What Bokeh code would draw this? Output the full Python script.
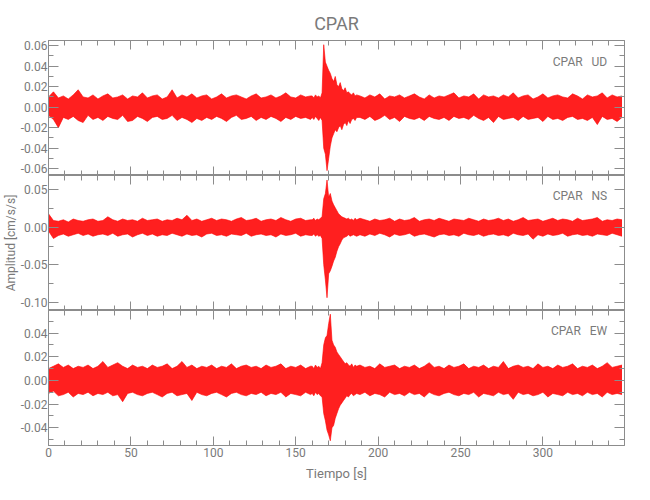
import numpy as np
from bokeh.plotting import figure
from bokeh.layouts import column
from bokeh.models import Range1d, FixedTicker, LinearAxis, PrintfTickFormatter, Label
from bokeh.embed import file_html
from bokeh.resources import INLINE

FONT = "Roboto"
TXT = "#7a7a7a"
AX = "#8c8c8c"
RED = "#ff0000"

# ---------------- data ----------------
# sample times of the envelope (s)
t_pre = list(range(0, 160, 3))
t_evt = list(range(160, 188))
t_post = list(range(189, 349, 3))

# envelopes (max / min of the trace per sample), units of 0.001 cm/s/s
ud_up_pre = [10, 15, 9, 11, 8, 12, 17, 10, 9,
             12, 8, 11, 13, 9, 10, 12, 8, 11,
             10, 14, 9, 11, 12, 8, 10, 17, 9,
             12, 10, 13, 9, 11, 12, 8, 10, 13,
             9, 11, 12, 10, 8, 11, 13, 9, 10,
             12, 9, 11, 14, 10, 9, 12, 10, 11]
ud_lo_pre = [-8, -12, -20, -10, -12, -9, -13, -15, -8,
             -12, -10, -13, -9, -11, -12, -8, -14, -13,
             -9, -11, -14, -10, -9, -12, -11, -8, -13,
             -10, -12, -15, -11, -13, -10, -12, -9, -11,
             -14, -10, -8, -12, -11, -9, -13, -10, -12,
             -9, -11, -14, -10, -12, -9, -11, -10, -12]
ud_up_evt = [11, 9, 12, 10, 11, 9, 14, 61, 44, 40, 36, 33, 28, 25,
             30, 22, 20, 24, 18, 16, 19, 14, 15, 13, 12, 14, 11, 12]
ud_lo_evt = [-10, -12, -9, -11, -13, -10, -13, -40, -46, -62, -50, -38, -30, -26,
             -22, -24, -20, -18, -22, -17, -15, -18, -13, -16, -12, -11, -13, -10]
ud_up_post = [11, 9, 12, 10, 13, 8, 11, 10, 12,
              9, 11, 13, 10, 8, 12, 9, 11, 10,
              12, 14, 9, 11, 10, 13, 8, 12, 10,
              11, 9, 12, 10, 14, 9, 11, 12, 8,
              10, 13, 9, 11, 12, 10, 9, 13, 11,
              8, 12, 10, 11, 14, 9, 12, 10, 11]
ud_lo_post = [-10, -12, -9, -13, -11, -8, -12, -10, -14,
              -9, -11, -12, -10, -13, -9, -11, -12, -10,
              -13, -9, -11, -10, -12, -8, -11, -13, -10,
              -15, -9, -12, -11, -10, -13, -9, -12, -11,
              -10, -14, -9, -12, -11, -13, -10, -9, -12,
              -11, -13, -10, -17, -9, -12, -11, -14, -10]

ns_up_pre = [18, 9, 8, 10, 7, 11, 9, 8, 10,
             11, 8, 9, 14, 10, 8, 11, 9, 10,
             8, 12, 9, 10, 11, 8, 10, 9, 12,
             10, 16, 9, 11, 8, 10, 12, 9, 11,
             10, 8, 11, 13, 9, 10, 12, 8, 10,
             11, 9, 13, 10, 8, 11, 12, 9, 10]
ns_lo_pre = [-5, -15, -11, -9, -12, -10, -8, -11, -9,
             -12, -10, -9, -11, -8, -12, -10, -9, -13,
             -10, -8, -11, -9, -12, -10, -11, -8, -10,
             -12, -9, -11, -10, -13, -9, -8, -11, -10,
             -12, -9, -10, -11, -8, -12, -10, -9, -11,
             -10, -13, -9, -11, -10, -8, -12, -10, -11]
ns_up_evt = [10, 12, 9, 11, 10, 12, 14, 38, 45, 63, 40, 45, 35, 30,
             26, 22, 18, 16, 14, 13, 12, 11, 12, 10, 11, 9, 12, 10]
ns_lo_evt = [-11, -9, -12, -10, -12, -11, -15, -50, -70, -94, -62, -58, -52, -45,
             -40, -32, -26, -22, -17, -14, -13, -12, -10, -12, -11, -10, -11, -12]
ns_up_post = [12, 10, 8, 11, 9, 10, 12, 8, 11,
              9, 10, 13, 8, 10, 11, 9, 12, 10,
              8, 11, 10, 9, 12, 10, 8, 11, 9,
              10, 12, 9, 11, 8, 10, 13, 9, 10,
              11, 8, 10, 12, 9, 11, 10, 8, 12,
              9, 10, 11, 13, 8, 10, 9, 11, 10]
ns_lo_post = [-10, -12, -9, -11, -8, -10, -13, -9, -11,
              -10, -8, -12, -10, -9, -11, -13, -10, -9,
              -11, -10, -12, -8, -10, -11, -9, -12, -10,
              -9, -11, -10, -12, -8, -10, -11, -9, -16,
              -10, -12, -9, -11, -10, -8, -12, -10, -9,
              -11, -10, -12, -9, -10, -11, -8, -10, -12]

ew_up_pre = [10, 12, 14, 11, 13, 10, 12, 11, 13,
             10, 12, 16, 11, 13, 15, 12, 10, 13,
             11, 12, 10, 13, 11, 12, 14, 10, 12,
             16, 11, 13, 10, 12, 11, 13, 10, 12,
             11, 14, 10, 12, 13, 11, 12, 10, 13,
             11, 12, 14, 10, 12, 11, 13, 10, 12]
ew_lo_pre = [-11, -9, -13, -12, -10, -14, -11, -12, -10,
             -13, -11, -12, -10, -13, -12, -18, -11, -10,
             -12, -13, -11, -10, -12, -14, -11, -10, -13,
             -12, -11, -17, -10, -12, -13, -11, -10, -12,
             -14, -11, -10, -12, -13, -11, -12, -10, -13,
             -11, -12, -10, -14, -11, -12, -13, -10, -12]
ew_up_evt = [12, 10, 13, 11, 12, 10, 15, 30, 36, 38, 48, 56, 34, 30,
             28, 24, 22, 20, 18, 16, 14, 15, 13, 12, 14, 11, 13, 12]
ew_lo_evt = [-11, -13, -10, -12, -11, -13, -14, -28, -34, -42, -46, -51, -40, -38,
             -32, -28, -24, -21, -19, -17, -15, -13, -14, -12, -11, -13, -12, -11]
ew_up_post = [13, 11, 12, 10, 14, 11, 12, 13, 10,
              12, 11, 13, 10, 12, 15, 11, 12, 10,
              13, 11, 12, 14, 10, 12, 11, 13, 10,
              12, 11, 16, 10, 12, 13, 11, 12, 10,
              14, 11, 12, 10, 13, 11, 12, 14, 10,
              12, 11, 13, 10, 12, 15, 11, 12, 13]
ew_lo_post = [-12, -10, -13, -11, -12, -14, -10, -12, -11,
              -13, -10, -12, -11, -14, -10, -12, -13, -11,
              -10, -12, -13, -11, -12, -10, -14, -11, -12,
              -13, -10, -12, -11, -16, -10, -12, -11, -13,
              -12, -10, -14, -11, -12, -13, -10, -12, -11,
              -13, -10, -12, -11, -14, -10, -12, -11, -12]

station = "CPAR"
components = ["UD", "NS", "EW"]
x_major = [0, 50, 100, 150, 200, 250, 300]

# ---------------- plotting ----------------
time_s = np.array(t_pre + t_evt + t_post, dtype=float)
MILLI = 1e-3  # envelope unit -> cm/s/s

x_range = Range1d(0, 349.5)
x_ticker = FixedTicker(ticks=x_major, minor_ticks=list(range(0, 350, 10)))


def style_axis(ax, tick_in, labels=True):
    ax.axis_line_color = AX
    ax.major_tick_line_color = AX
    ax.minor_tick_line_color = AX
    ax.major_tick_in = tick_in
    ax.major_tick_out = 0
    ax.minor_tick_in = 5
    ax.minor_tick_out = 0
    ax.major_label_text_font = FONT
    ax.major_label_text_color = TXT
    if labels:
        ax.major_label_text_font_size = "12px"
        ax.major_label_standoff = 1
    else:
        ax.major_label_text_font_size = "0px"
        ax.major_label_text_alpha = 0
        ax.major_label_standoff = 0


def panel(comp, up, lo, yr, yt, ym, label_y, top=False, bottom=False, ylabel=None):
    p = figure(frame_width=576, frame_height=135, x_range=x_range,
               y_range=Range1d(*yr), output_backend="svg", toolbar_location=None,
               min_border_left=48, min_border_right=12,
               min_border_top=40 if top else 0,
               min_border_bottom=44 if bottom else 0)
    p.grid.visible = False
    p.outline_line_color = AX
    p.background_fill_color = "white"
    p.border_fill_color = "white"

    yticker = FixedTicker(ticks=yt, minor_ticks=ym)
    xa = p.xaxis[0]
    ya = p.yaxis[0]
    xa.ticker = x_ticker
    ya.ticker = yticker
    ya.formatter = PrintfTickFormatter(format="%.2f")
    style_axis(xa, 9, labels=bottom)
    style_axis(ya, 10)
    if bottom:
        xa.major_label_standoff = 2
        xa.axis_label = "Tiempo [s]"
        xa.axis_label_text_font = FONT
        xa.axis_label_text_font_size = "13px"
        xa.axis_label_text_font_style = "normal"
        xa.axis_label_text_color = TXT
        xa.axis_label_standoff = 6
    if ylabel:
        ya.axis_label = ylabel
        ya.axis_label_text_font = FONT
        ya.axis_label_text_font_size = "12px"
        ya.axis_label_text_font_style = "normal"
        ya.axis_label_text_color = TXT
        ya.axis_label_standoff = 0

    top_ax = LinearAxis(ticker=x_ticker)
    style_axis(top_ax, 9, labels=False)
    p.add_layout(top_ax, "above")
    right_ax = LinearAxis(ticker=yticker)
    style_axis(right_ax, 10, labels=False)
    p.add_layout(right_ax, "right")

    if top:
        p.title.text = station
        p.title.align = "center"
        p.title.text_font = FONT
        p.title.text_font_size = "18px"
        p.title.text_font_style = "normal"
        p.title.text_color = TXT
        p.title.standoff = 14

    y_up = np.array(up, dtype=float) * MILLI
    y_lo = np.array(lo, dtype=float) * MILLI
    p.varea(x=time_s, y1=y_lo, y2=y_up, fill_color=RED, fill_alpha=0.88)
    p.line(time_s, y_up, line_color=RED, line_width=1, line_alpha=0.6)
    p.line(time_s, y_lo, line_color=RED, line_width=1, line_alpha=0.6)

    p.add_layout(Label(x=339, y=label_y, text=station + "\u00a0\u00a0\u00a0" + comp,
                       text_align="right", text_baseline="middle",
                       text_font=FONT, text_font_size="12px", text_color=TXT))
    return p


def ticks(a, b, step):
    n = int(round((b - a) / step))
    return [round(a + i * step, 4) for i in range(n + 1)]


p1 = panel(components[0], ud_up_pre + ud_up_evt + ud_up_post,
           ud_lo_pre + ud_lo_evt + ud_lo_post,
           (-0.0667, 0.0651), ticks(-0.06, 0.06, 0.02), ticks(-0.06, 0.06, 0.01),
           0.0444, top=True)
p2 = panel(components[1], ns_up_pre + ns_up_evt + ns_up_post,
           ns_lo_pre + ns_lo_evt + ns_lo_post,
           (-0.111, 0.069), ticks(-0.10, 0.05, 0.05), ticks(-0.10, 0.05, 0.025),
           0.042, ylabel="Amplitud [cm/s/s]")
p3 = panel(components[2], ew_up_pre + ew_up_evt + ew_up_post,
           ew_lo_pre + ew_lo_evt + ew_lo_post,
           (-0.0550, 0.0591), ticks(-0.04, 0.04, 0.02), ticks(-0.05, 0.05, 0.01),
           0.0414, bottom=True)

layout = column(p1, p2, p3, spacing=0)
open("out.html", "w").write(file_html(layout, INLINE))
